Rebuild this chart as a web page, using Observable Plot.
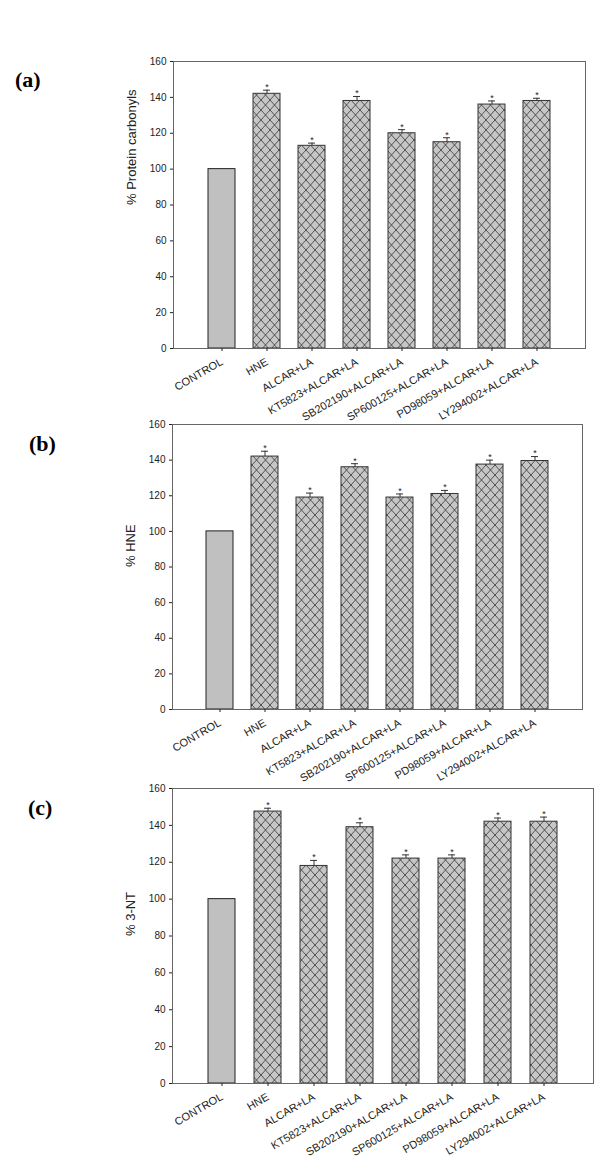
<!DOCTYPE html>
<html><head><meta charset="utf-8">
<script src="https://cdn.jsdelivr.net/npm/d3@7"></script>
<script src="https://cdn.jsdelivr.net/npm/@observablehq/plot@0.6"></script>
<style>
body{margin:0;background:#fff;}
#wrap{position:relative;width:600px;height:1159px;overflow:hidden;background:#fff;}
.panel{position:absolute;font-family:"Liberation Serif","Times New Roman",serif;font-weight:bold;font-size:22px;line-height:22px;color:#000;}
.plotbox{position:absolute;left:0;}
</style></head><body>
<svg width="0" height="0" style="position:absolute"><defs>
<pattern id="xhatch" patternUnits="userSpaceOnUse" width="9" height="10">
<rect width="9" height="10" fill="#c6c6c6"/>
<path d="M0,0L9,10M9,0L0,10" stroke="#333" stroke-width="0.8"/>
</pattern></defs></svg>
<div id="wrap"></div>
<script>
const categories = ["CONTROL","HNE","ALCAR+LA","KT5823+ALCAR+LA","SB202190+ALCAR+LA","SP600125+ALCAR+LA","PD98059+ALCAR+LA","LY294002+ALCAR+LA"];
const yTicks = [0,20,40,60,80,100,120,140,160];

const valuesA = [100,142,113,138,120,115,136,138];
const errorsA = [0,2,1.5,2.5,2,2.5,2,1.5];
const valuesB = [100,142,119,136,119,121,137.5,139.5];
const errorsB = [0,3,2.5,2,2,2,2.5,2.5];
const valuesC = [100,147.5,118,139,122,122,142,142];
const errorsC = [0,1.8,3,2.4,2,2,2,2.5];

const panelLabels = ["(a)","(b)","(c)"];
const yLabels = ["% Protein carbonyls","% HNE","% 3-NT"];

const layouts = [
  {top:0, height:415, marginTop:61, marginBottom:67, marginLeft:173, marginRight:15, lx:15, ly:69},
  {top:415, height:360, marginTop:9, marginBottom:66, marginLeft:172, marginRight:18, lx:29, ly:433},
  {top:775, height:384, marginTop:13, marginBottom:76, marginLeft:172, marginRight:7, lx:28, ly:797}
];

function makeChart(values, errors, label, L) {
  const data = categories.map((c, i) => ({cat: c, value: values[i], err: errors[i], top: values[i] + errors[i]}));
  const ctrl = data.filter(d => d.cat === categories[0]);
  const treated = data.filter(d => d.cat !== categories[0]);
  return Plot.plot({
    width: 600, height: L.height,
    marginTop: L.marginTop, marginBottom: L.marginBottom, marginLeft: L.marginLeft, marginRight: L.marginRight,
    style: {fontFamily: "'Liberation Sans', Arial, sans-serif", fontSize: "10px", color: "#222", background: "none", overflow: "visible"},
    x: {domain: categories, paddingInner: 0.41, paddingOuter: 0.735, label: null},
    y: {domain: [0, 160], label: null},
    marks: [
      Plot.barY(ctrl, {x: "cat", y: "value", fill: "#c0c0c0", stroke: "#222", strokeWidth: 1}),
      Plot.barY(treated, {x: "cat", y: "value", fill: "url(#xhatch)", stroke: "#333", strokeWidth: 1}),
      Plot.ruleX(treated, {x: "cat", y1: "value", y2: "top", stroke: "#333"}),
      Plot.tickY(treated, {x: "cat", y: "top", insetLeft: 10, insetRight: 10, stroke: "#333"}),
      Plot.text(treated, {x: "cat", y: "top", text: () => "*", dy: -3, fontSize: 9}),
      Plot.frame({stroke: "#666"}),
      Plot.axisY({ticks: yTicks, tickSize: 3, tickPadding: 4, label: null}),
      Plot.axisX({tickSize: 3, tickRotate: -30, label: null, fontSize: 11}),
      Plot.text([label], {frameAnchor: "left", dx: -42, rotate: -90, text: d => d, fontSize: 13})
    ]
  });
}

const wrap = document.getElementById("wrap");
const sets = [[valuesA, errorsA], [valuesB, errorsB], [valuesC, errorsC]];
layouts.forEach((L, i) => {
  const box = document.createElement("div");
  box.className = "plotbox";
  box.style.top = L.top + "px";
  box.appendChild(makeChart(sets[i][0], sets[i][1], yLabels[i], L));
  wrap.appendChild(box);
  const pl = document.createElement("div");
  pl.className = "panel";
  pl.style.left = L.lx + "px";
  pl.style.top = L.ly + "px";
  pl.textContent = panelLabels[i];
  wrap.appendChild(pl);
});
</script>
</body></html>
